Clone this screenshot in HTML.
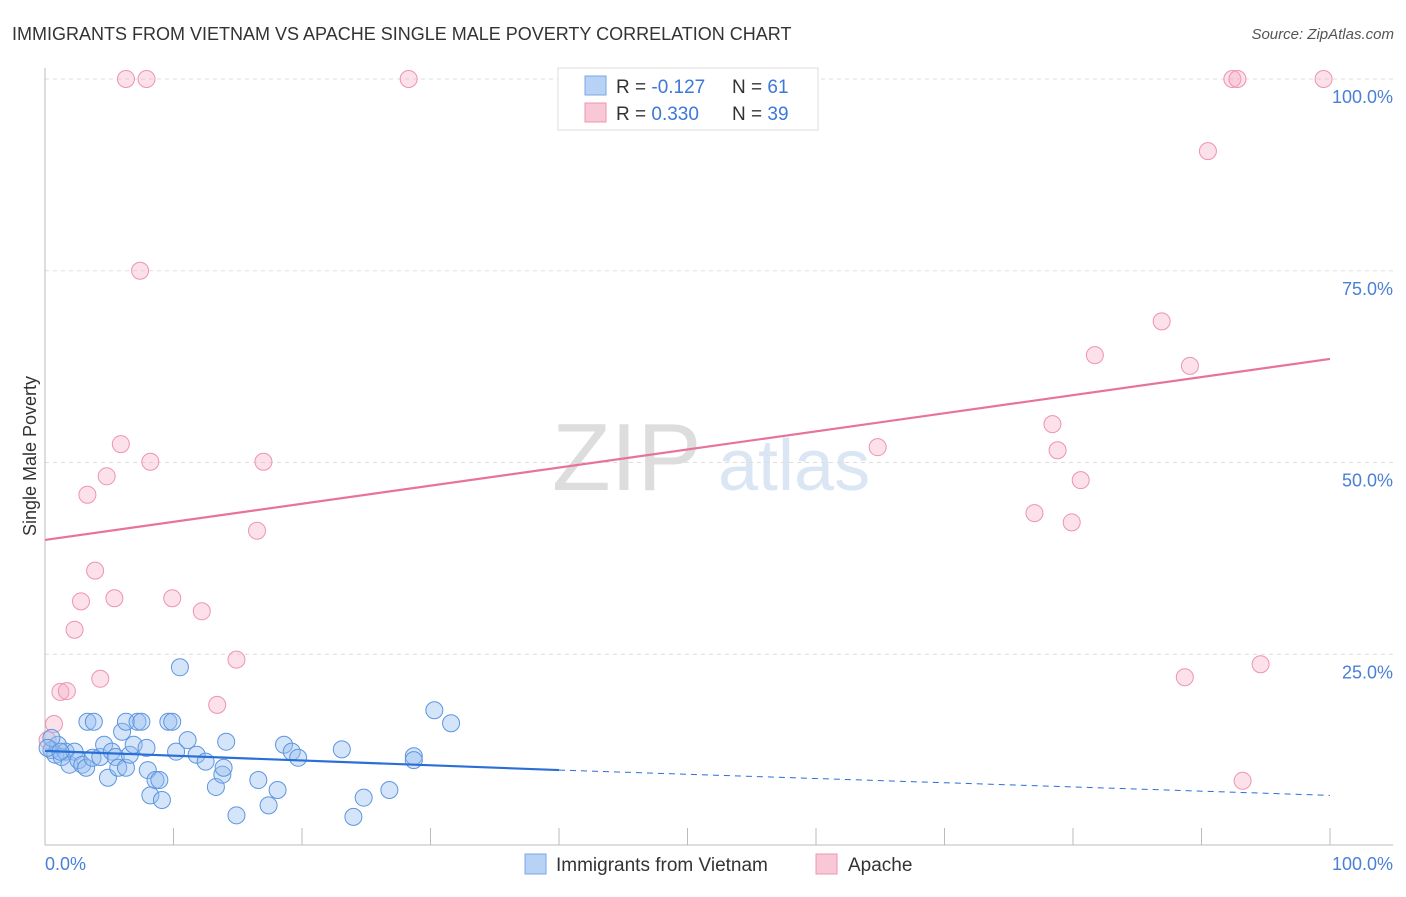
<!DOCTYPE html>
<html><head><meta charset="utf-8"><style>
body{margin:0;background:#fff;font-family:"Liberation Sans",sans-serif}
svg text{font-family:"Liberation Sans",sans-serif}
</style></head><body>
<svg id="c" width="1406" height="892" viewBox="0 0 1406 892" xmlns="http://www.w3.org/2000/svg">
<text x="12" y="40" font-size="18" fill="#333">IMMIGRANTS FROM VIETNAM VS APACHE SINGLE MALE POVERTY CORRELATION CHART</text>
<text x="1394" y="39" font-size="15" fill="#555" font-style="italic" text-anchor="end">Source: ZipAtlas.com</text>
<g>
<text x="552" y="490" font-size="96" fill="#ddd" font-family="Liberation Serif">ZIP</text>
<text x="718" y="490" font-size="72" fill="#dbe6f5">atlas</text>
</g>
<g id="grid"></g>
<g id="axes"></g>
<g id="pts"></g>
<g id="trend"></g>
<text x="36" y="456" font-size="18" fill="#333" text-anchor="middle" transform="rotate(-90 36 456)">Single Male Poverty</text>
<text x="45" y="870" font-size="18" fill="#4a7fd6">0.0%</text>
<text x="1393" y="870" font-size="18" fill="#4a7fd6" text-anchor="end">100.0%</text>
<g>
<rect x="558" y="68" width="260" height="62" fill="#fff" stroke="#ddd"/>
<rect x="585" y="76" width="21" height="19" fill="#b8d2f5" stroke="#7aa7e6"/>
<rect x="585" y="103" width="21" height="19" fill="#f9c8d6" stroke="#ee94ad"/>
<text x="616" y="93" font-size="19" fill="#333">R = <tspan fill="#3b78d8">-0.127</tspan></text>
<text x="732" y="93" font-size="19" fill="#333">N = <tspan fill="#3b78d8"> 61</tspan></text>
<text x="616" y="120" font-size="19" fill="#333">R = <tspan fill="#3b78d8"> 0.330</tspan></text>
<text x="732" y="120" font-size="19" fill="#333">N = <tspan fill="#3b78d8">39</tspan></text>
</g>
<g>
<rect x="525" y="854" width="21" height="20" fill="#b8d2f5" stroke="#7aa7e6"/>
<text x="556" y="871" font-size="19" fill="#333">Immigrants from Vietnam</text>
<rect x="816" y="854" width="21" height="20" fill="#f9c8d6" stroke="#ee94ad"/>
<text x="848" y="871" font-size="19" fill="#333">Apache</text>
</g>
</svg>
<script>
const yTicks=[25,50,75,100];
const yTickLabels=["25.0%","50.0%","75.0%","100.0%"];
const xTicks=[0,10,20,30,40,50,60,70,80,90,100];
const vietX=[0.5,0.8,1.0,1.3,1.6,1.9,2.3,2.6,2.9,3.2,3.3,3.8,3.7,4.3,4.6,4.9,5.2,5.5,5.7,6.0,6.3,6.3,6.6,6.9,7.2,7.5,7.9,8.0,8.2,8.6,8.9,9.1,9.6,9.9,10.2,10.5,11.1,11.8,12.5,13.3,13.8,13.9,14.1,14.9,16.6,17.4,18.1,18.6,19.2,19.7,23.1,24.0,24.8,26.8,28.7,28.7,30.3,31.6,0.5,0.2,1.2];
const vietY=[12.5,11.9,13.2,11.6,12.3,10.6,12.3,11.2,10.6,10.2,16.2,16.2,11.5,11.6,13.2,8.9,12.3,11.6,10.2,14.9,10.2,16.2,11.9,13.2,16.2,16.2,12.8,9.9,6.6,8.6,8.6,6.0,16.2,16.2,12.3,23.3,13.8,11.9,11.0,7.7,9.3,10.2,13.6,4.0,8.6,5.3,7.3,13.2,12.3,11.5,12.6,3.8,6.3,7.3,11.7,11.2,17.7,16.0,14.1,12.8,12.3];
const apX=[6.3,7.9,28.3,92.4,92.8,99.5,90.5,7.4,86.9,81.7,89.1,5.9,8.2,17.0,4.8,64.8,78.4,78.8,3.3,80.6,77.0,79.9,16.5,3.9,2.8,5.4,9.9,12.2,2.3,14.9,94.6,4.3,1.2,1.7,88.7,13.4,0.7,93.2,0.2];
const apY=[100,100,100,100,100,100,90.6,75.0,68.4,64.0,62.6,52.4,50.1,50.1,48.2,52.0,55.0,51.6,45.8,47.7,43.4,42.2,41.1,35.9,31.9,32.3,32.3,30.6,28.2,24.3,23.7,21.8,20.1,20.2,22.0,18.4,15.9,8.5,13.8];
const apTrend=[39.9,63.5];
const vietTrend=[12.4,9.9,6.6];
const vietSolidEnd=40;
const NS="http://www.w3.org/2000/svg";
const X0=45,X1=1330,Y0=846,Y100=79;
const sx=v=>X0+(X1-X0)*v/100;
const sy=v=>Y0-(Y0-Y100)*v/100;
function mk(t,a,p){const e=document.createElementNS(NS,t);for(const k in a)e.setAttribute(k,a[k]);p.appendChild(e);return e;}
const grid=document.getElementById('grid'),axes=document.getElementById('axes'),pts=document.getElementById('pts'),trend=document.getElementById('trend');
yTicks.forEach((t,i)=>{
 const l=mk('line',{x1:45,x2:1393,y1:sy(t),y2:sy(t),stroke:'#ddd','stroke-dasharray':'4,4'},grid);
 
 
 const tx=mk('text',{x:1393,y:sy(t)+24,'font-size':18,fill:'#4a7fd6','text-anchor':'end'},grid);
 tx.textContent=yTickLabels[i];
 
 
});
const ya=mk('line',{x1:45,x2:45,y1:68,y2:845,stroke:'#bbb'},axes);


const xa=mk('line',{x1:45,x2:1393,y1:845,y2:845,stroke:'#bbb'},axes);


xTicks.forEach(t=>{
 const l=mk('line',{x1:sx(t),x2:sx(t),y1:828,y2:845,stroke:'#bbb'},axes);
 
 
});
apX.forEach((v,i)=>{
 const c=mk('circle',{cx:sx(v),cy:sy(apY[i]),r:8.5,fill:'rgba(246,170,195,0.35)',stroke:'#ee94ad','stroke-width':1},pts);
 
 
});
vietX.forEach((v,i)=>{
 const c=mk('circle',{cx:sx(v),cy:sy(vietY[i]),r:8.5,fill:'rgba(150,190,240,0.4)',stroke:'#5d95e0','stroke-width':1},pts);
 
 
});
const pl=mk('line',{x1:sx(0),y1:sy(apTrend[0]),x2:sx(100),y2:sy(apTrend[1]),stroke:'#e8739a','stroke-width':2.2},trend);


const bl=mk('line',{x1:sx(0),y1:sy(vietTrend[0]),x2:sx(vietSolidEnd),y2:sy(vietTrend[1]),stroke:'#2a6fd6','stroke-width':2.2},trend);


const bd=mk('line',{x1:sx(vietSolidEnd),y1:sy(vietTrend[1]),x2:sx(100),y2:sy(vietTrend[2]),stroke:'#2a6fd6','stroke-width':1,'stroke-dasharray':'6,5'},trend);


</script>
</body></html>
